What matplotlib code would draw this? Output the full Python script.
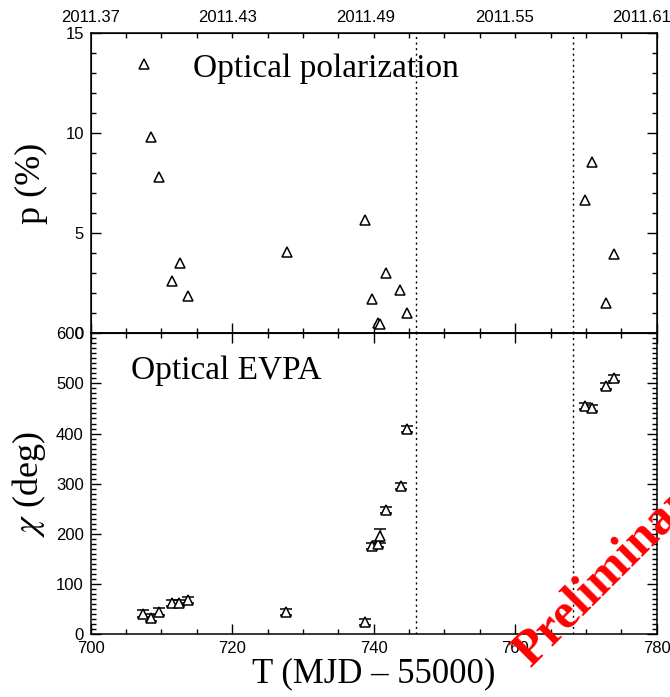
import numpy as np
import matplotlib
matplotlib.use('Agg')
import matplotlib.pyplot as plt
from matplotlib.ticker import MultipleLocator, FixedLocator, NullFormatter

# ── data (MJD - 55000) ────────────────────────────────────────────────────
t_pol = [707.6, 708.5, 709.6, 711.55, 712.6, 713.7, 727.7, 738.7, 739.8,
         740.6, 740.85, 741.7, 743.7, 744.7, 769.8, 770.9, 772.9, 774.0]
p_pol = [13.45, 9.8, 7.83, 2.63, 3.5, 1.88, 4.05, 5.67, 1.72,
         0.5, 0.45, 3.0, 2.18, 1.03, 6.67, 8.58, 1.53, 3.97]

t_evpa = [707.4, 708.5, 709.7, 711.5, 712.5, 713.7, 727.6, 738.7, 739.8,
          740.6, 740.85, 741.75, 743.8, 744.7, 769.8, 770.8, 772.9, 774.0]
chi_evpa = [40, 32, 44, 62, 62, 67, 44, 23, 176,
            180, 196, 247, 296, 410, 454, 450, 494, 510]
chi_err = [7, 7, 7, 6, 6, 6, 6, 6, 6,
           6, 14, 6, 6, 6, 6, 6, 6, 6]

flare_lines = [746.0, 768.2]

top_tick_pos = [700.0, 719.3, 738.9, 758.5, 777.9]
top_tick_lab = ['2011.37', '2011.43', '2011.49', '2011.55', '2011.61']

SERIF = 'Liberation Serif'
SANS = 'Liberation Sans'
plt.rcParams['font.family'] = SANS
plt.rcParams['mathtext.fontset'] = 'stix'

fig = plt.figure(figsize=(6.70, 6.97), dpi=100)
L, W = 90.7 / 670, (656.7 - 90.7) / 670
ax1 = fig.add_axes([L, 1 - 333.3 / 697, W, 300 / 697])
ax2 = fig.add_axes([L, 1 - 634 / 697, W, 300.7 / 697])

for ax in (ax1, ax2):
    ax.set_xlim(700, 780)
    ax.xaxis.set_major_locator(MultipleLocator(20))
    ax.xaxis.set_minor_locator(MultipleLocator(5))
    ax.tick_params(which='both', direction='in', right=True, labelsize=12,
                   width=1, pad=5)
    ax.tick_params(which='major', length=7)
    ax.tick_params(which='minor', length=3.5)
    for s in ax.spines.values():
        s.set_linewidth(1.1)
    for xv in flare_lines:
        ax.axvline(xv, color='black', linestyle=(0, (1.5, 2.5)), linewidth=1)

# ── top panel: polarization degree ───────────────────────────────────────
ax1.plot(t_pol, p_pol, linestyle='none', marker='^', markersize=7,
         markerfacecolor='white', markeredgecolor='black', markeredgewidth=1.1)
ax1.set_ylim(0, 15)
ax1.yaxis.set_major_locator(MultipleLocator(5))
ax1.yaxis.set_minor_locator(MultipleLocator(1))
ax1.tick_params(axis='x', which='both', top=False, labelbottom=False)
ax1.set_ylabel('p (%)', family=SERIF, fontsize=26)
ax1.text(0.181, 0.883, 'Optical polarization', transform=ax1.transAxes,
         family=SERIF, fontsize=24, va='center', ha='left')

axt = ax1.twiny()
axt.set_xlim(700, 780)
axt.xaxis.set_major_locator(FixedLocator(top_tick_pos))
axt.set_xticklabels(top_tick_lab)
axt.xaxis.set_minor_locator(MultipleLocator(5))
axt.tick_params(which='major', length=0, labelsize=12, pad=6)
axt.tick_params(which='minor', direction='in', length=3.5, width=1)

# ── bottom panel: EVPA ───────────────────────────────────────────────────
ax2.errorbar(t_evpa, chi_evpa, yerr=chi_err, linestyle='none', marker='^',
             markersize=7, markerfacecolor='white', markeredgecolor='black',
             markeredgewidth=1.1, ecolor='black', elinewidth=1, capsize=4)
ax2.set_ylim(0, 600)
ax2.yaxis.set_major_locator(MultipleLocator(100))
ax2.yaxis.set_minor_locator(MultipleLocator(10))
ax2.tick_params(axis='x', which='both', top=True)
ax2.set_ylabel(r'$\chi$ (deg)', family=SERIF, fontsize=26)
ax2.set_xlabel('T (MJD \u2013 55000)', family=SERIF, fontsize=25, labelpad=1)
ax2.text(0.072, 0.877, 'Optical EVPA', transform=ax2.transAxes,
         family=SERIF, fontsize=24, va='center', ha='left')

ax1.yaxis.set_label_coords(-0.076, 0.5)
ax2.yaxis.set_label_coords(-0.076, 0.5)

fig.text(530 / 670, 1 - 668 / 697, 'Preliminary', rotation=45,
         rotation_mode='anchor', ha='left', va='baseline', color='red',
         fontsize=36, fontweight='bold', family=SERIF)

fig.savefig('out.png', dpi=100)
